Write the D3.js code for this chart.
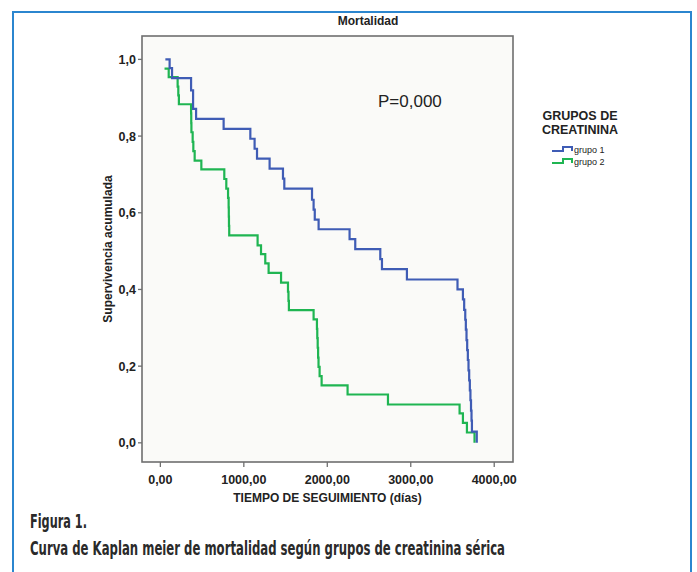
<!DOCTYPE html>
<html>
<head>
<meta charset="utf-8">
<script src="https://cdn.jsdelivr.net/npm/d3@7"></script>
<style>
  body { margin: 0; background: #fff; }
  svg { display: block; }
</style>
</head>
<body>
<svg id="chart" width="697" height="572"></svg>
<script>
// survival steps: time (dias) and cumulative survival
let grupo1Times = [60, 111, 140, 368, 392, 428, 758, 1078, 1129, 1158, 1309, 1469, 1485, 1817, 1836, 1850, 1896,
    2267, 2335, 2635, 2655, 2954, 3560, 3625, 3640, 3653, 3660, 3668, 3676, 3684, 3692, 3700, 3708, 3715, 3722,
    3728, 3733, 3791];
let grupo1Surv = [1.0, 0.977, 0.951, 0.919, 0.871, 0.845, 0.819, 0.793, 0.767, 0.741, 0.715, 0.689, 0.663, 0.634,
    0.608, 0.582, 0.557, 0.531, 0.505, 0.479, 0.453, 0.426, 0.400, 0.374, 0.347, 0.321, 0.295, 0.268, 0.242, 0.216,
    0.189, 0.163, 0.137, 0.111, 0.084, 0.058, 0.029, 0.0];

let grupo2Times = [50, 100, 207, 215, 222, 368, 370, 372, 387, 395, 411, 491, 766, 790, 811, 818, 820, 822, 825,
    1165, 1206, 1257, 1297, 1446, 1529, 1535, 1540, 1836, 1876, 1880, 1885, 1890, 1895, 1908, 1932, 2243, 2727,
    3585, 3625, 3673, 3764];
let grupo2Surv = [0.976, 0.954, 0.929, 0.906, 0.883, 0.859, 0.834, 0.810, 0.785, 0.761, 0.736, 0.713, 0.688, 0.663,
    0.639, 0.614, 0.590, 0.566, 0.541, 0.515, 0.492, 0.468, 0.443, 0.418, 0.394, 0.370, 0.346, 0.322, 0.297, 0.273,
    0.248, 0.222, 0.198, 0.174, 0.150, 0.126, 0.100, 0.077, 0.052, 0.027, 0.0];

let groupNames = ["grupo 1", "grupo 2"];
let groupColors = ["#3f5cb5", "#1fb552"];
let xTicks = [0, 1000, 2000, 3000, 4000];
let yTicks = [0, 0.2, 0.4, 0.6, 0.8, 1.0];

const svg = d3.select("#chart");
const arial = "'Liberation Sans', Arial, sans-serif";

// blue frame of the figure
svg.append("rect")
    .attr("x", 13).attr("y", 12)
    .attr("width", 678).attr("height", 600)
    .attr("fill", "#fff")
    .attr("stroke", "#2b86cf")
    .attr("stroke-width", 2);

const x_scale = d3.scaleLinear([-220, 4225], [142, 513]);
const y_scale = d3.scaleLinear([-0.05, 1.061], [462, 36]);

// plot background + border
svg.append("rect")
    .attr("x", x_scale(-220)).attr("y", y_scale(1.061))
    .attr("width", x_scale(4225) - x_scale(-220))
    .attr("height", y_scale(-0.05) - y_scale(1.061))
    .attr("fill", "#fafaf8")
    .attr("stroke", "#6f6f6f")
    .attr("stroke-width", 1.6);

const comma = f => v => d3.format(f)(v).replace(".", ",");

// y axis
svg.selectAll(".ytick")
    .data(yTicks)
    .enter()
    .append("line")
    .attr("class", "ytick")
    .attr("x1", x_scale(-220) - 4).attr("x2", x_scale(-220))
    .attr("y1", d => y_scale(d)).attr("y2", d => y_scale(d))
    .attr("stroke", "#6f6f6f").attr("stroke-width", 1.3);

svg.selectAll(".ylab")
    .data(yTicks)
    .enter()
    .append("text")
    .attr("class", "ylab")
    .attr("x", x_scale(-220) - 6)
    .attr("y", d => y_scale(d))
    .attr("dy", "0.36em")
    .attr("text-anchor", "end")
    .style("font", "bold 12.5px " + arial)
    .attr("fill", "#222")
    .text(comma(".1f"));

// x axis
svg.selectAll(".xtick")
    .data(xTicks)
    .enter()
    .append("line")
    .attr("class", "xtick")
    .attr("x1", d => x_scale(d)).attr("x2", d => x_scale(d))
    .attr("y1", y_scale(-0.05)).attr("y2", y_scale(-0.05) + 5)
    .attr("stroke", "#6f6f6f").attr("stroke-width", 1.3);

svg.selectAll(".xlab")
    .data(xTicks)
    .enter()
    .append("text")
    .attr("class", "xlab")
    .attr("x", d => x_scale(d))
    .attr("y", y_scale(-0.05) + 22)
    .attr("text-anchor", "middle")
    .style("font", "bold 12.5px " + arial)
    .attr("fill", "#222")
    .text(comma(".2f"));

svg.append("text")
    .attr("x", (x_scale(-220) + x_scale(4225)) / 2)
    .attr("y", 502)
    .attr("text-anchor", "middle")
    .style("font", "bold 12px " + arial)
    .attr("fill", "#222")
    .text("TIEMPO DE SEGUIMIENTO (días)");

svg.append("text")
    .attr("transform", "translate(112," + ((y_scale(-0.05) + y_scale(1.061)) / 2) + ") rotate(-90)")
    .attr("text-anchor", "middle")
    .style("font", "bold 12px " + arial)
    .attr("fill", "#222")
    .text("Supervivencia acumulada");

svg.append("text")
    .attr("x", 368).attr("y", 25)
    .attr("text-anchor", "middle")
    .style("font", "bold 12px " + arial)
    .attr("fill", "#222")
    .text("Mortalidad");

svg.append("text")
    .attr("x", 378).attr("y", 107)
    .style("font", "17px " + arial)
    .attr("fill", "#222")
    .text("P=0,000");

// km curves
let line = d3.line()
    .x(d => x_scale(d[0]))
    .y(d => y_scale(d[1]))
    .curve(d3.curveStepAfter);

let series = [d3.zip(grupo1Times, grupo1Surv), d3.zip(grupo2Times, grupo2Surv)];

svg.selectAll(".km")
    .data(series.slice().reverse())
    .enter()
    .append("path")
    .attr("class", "km")
    .attr("d", line)
    .attr("fill", "none")
    .attr("stroke", (d, i) => groupColors[1 - i])
    .attr("stroke-width", 2.2);

// legend
svg.append("text")
    .attr("x", 580).attr("y", 120)
    .attr("text-anchor", "middle")
    .style("font", "bold 12.5px " + arial)
    .attr("fill", "#222")
    .text("GRUPOS DE");
svg.append("text")
    .attr("x", 580).attr("y", 134)
    .attr("text-anchor", "middle")
    .style("font", "bold 12.5px " + arial)
    .attr("fill", "#222")
    .text("CREATININA");

let leg = svg.selectAll(".leg")
    .data(groupNames)
    .enter()
    .append("g")
    .attr("class", "leg")
    .attr("transform", (d, i) => "translate(552," + (151 + i * 12) + ")");

leg.append("path")
    .attr("d", "M0,0 H11 V-4 H20 V0")
    .attr("fill", "none")
    .attr("stroke", (d, i) => groupColors[i])
    .attr("stroke-width", 2);

leg.append("text")
    .attr("x", 22).attr("y", 2)
    .style("font", "9px " + arial)
    .attr("fill", "#222")
    .text(d => d);

// caption (condensed look: narrow font stretched vertically)
const narrow = "'Liberation Sans Narrow', 'DejaVu Sans Condensed', 'Roboto Condensed', sans-serif";
svg.append("text")
    .attr("transform", "translate(30,528) scale(1,1.25)")
    .style("font", "bold 15px " + narrow)
    .attr("fill", "#2a2a2a")
    .attr("textLength", 57)
    .attr("lengthAdjust", "spacingAndGlyphs")
    .text("Figura 1.");
svg.append("text")
    .attr("transform", "translate(30,555) scale(1,1.25)")
    .style("font", "bold 15px " + narrow)
    .attr("fill", "#2a2a2a")
    .attr("textLength", 475)
    .attr("lengthAdjust", "spacingAndGlyphs")
    .text("Curva de Kaplan meier de mortalidad según grupos de creatinina sérica");
</script>
</body>
</html>
